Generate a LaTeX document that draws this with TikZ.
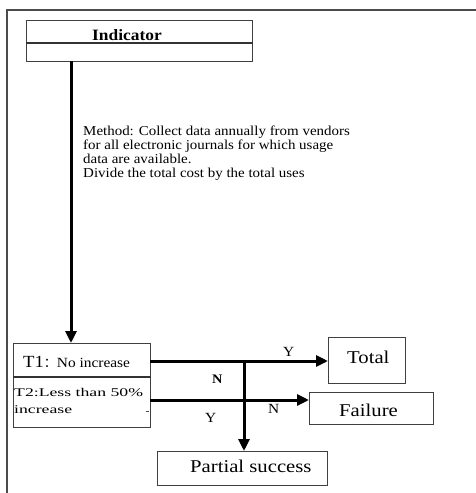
\documentclass[tikz,border=0pt]{standalone}
\usepackage{fontspec}
\setmainfont{Liberation Serif}
\newfontfamily\widef[FakeStretch=1.1]{Liberation Serif}
\newfontfamily\widerf[FakeStretch=1.15]{Liberation Serif}
\newfontfamily\widestf[FakeStretch=1.5]{Liberation Serif}
\newfontfamily\cjkf{Noto Sans CJK SC}
\usetikzlibrary{arrows.meta}
\begin{document}
\begin{tikzpicture}[x=1pt,y=-1pt,
  box/.style={draw=black!75,line width=1.3pt,inner sep=0pt},
  conn/.style={line width=3pt,-{Triangle[length=12pt,width=11pt]}},
  txt/.style={inner sep=0pt,anchor=base west},
  big/.style={txt,font=\widerf\fontsize{18}{20}\selectfont},
  lbl/.style={txt,font=\widef\fontsize{14}{15}\selectfont}]
\useasboundingbox (0,0) rectangle (476,493);
% outer frame (top and left)
\draw[black!70,line width=1.5pt] (476,10) -- (7,10) -- (7,493);
% indicator box
\node[box,minimum width=226pt,minimum height=41pt,anchor=north west] (ind) at (26,20) {};
\draw[black!80,line width=1.2pt] (ind.west |- 0,43) -- (ind.east |- 0,43);
\node[txt,font=\widef\bfseries\fontsize{15.8}{17}\selectfont] (indt) at (92,40) {Indicator};
% method text (base anchor is the last line's baseline)
\node[txt,align=left,font=\widef\fontsize{13.6}{14}\selectfont] (meth) at (83,177)
 {Method: Collect data annually from vendors\\for all electronic journals for which usage\\data are available.\\Divide the total cost by the total uses};
% T box
\node[box,minimum width=137pt,minimum height=84pt,anchor=north west] (tb) at (13,343) {};
\draw[black!80,line width=1.2pt] (tb.west |- 0,377) -- (tb.east |- 0,377);
\node[txt] (t1) at (23,367) {\widef\fontsize{17}{18}\selectfont T1{\cjkf\fontsize{13}{14}\selectfont ：}\fontsize{14}{15}\selectfont No increase};
\node[txt,font=\widestf\fontsize{11.8}{12}\selectfont] (t2a) at (14,396) {T2:Less than 50\%};
\node[txt,font=\widestf\fontsize{11.8}{12}\selectfont] (t2b) at (14,413) {increase};
\draw[black!70,line width=1pt] (146,411) -- (149,411);
% result boxes
\node[box,minimum width=77pt,minimum height=46pt,anchor=north west] (tot) at (328,337) {};
\node[big] (tott) at (347,363) {Total};
\node[box,minimum width=124pt,minimum height=32pt,anchor=north west] (fail) at (309,392) {};
\node[big] (failt) at (339,416) {Failure};
\node[box,minimum width=170pt,minimum height=34pt,anchor=north west] (part) at (157,451) {};
\node[big] (partt) at (190,472) {Partial success};
% connectors
\coordinate (a0) at (71,61);
\draw[conn] (a0) -- (a0 |- tb.north);
\coordinate (r1) at (150,361);
\coordinate (r2) at (150,400);
\coordinate (j) at (244,361);
\draw[conn] (r1) -- (r1 -| tot.west);
\draw[conn] (r2) -- (r2 -| fail.west);
\draw[conn] (j) -- (j |- part.north);
% labels
\node[lbl] (ly1) at (283,356) {Y};
\node[txt,font=\widef\bfseries\fontsize{13}{14}\selectfont] (ln1) at (212,383) {N};
\node[lbl] (ly2) at (205,422) {Y};
\node[lbl] (ln2) at (268,413) {N};
\end{tikzpicture}
\end{document}
